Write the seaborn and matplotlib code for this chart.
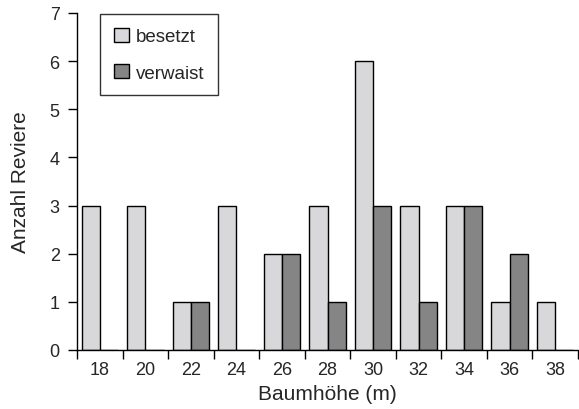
import matplotlib
matplotlib.use("Agg")
import matplotlib.pyplot as plt
from matplotlib.patches import Patch
import seaborn as sns
import pandas as pd

# data
heights = ["18", "20", "22", "24", "26", "28", "30", "32", "34", "36", "38"]
besetzt = [3, 3, 1, 3, 2, 3, 6, 3, 3, 1, 1]
verwaist = [0, 0, 1, 0, 2, 1, 3, 1, 3, 2, 0]
series = ["besetzt", "verwaist"]
colors = {"besetzt": "#d8d8da", "verwaist": "#858585"}

df = pd.DataFrame({
    "Baumhoehe": heights * 2,
    "Anzahl": besetzt + verwaist,
    "Status": [series[0]] * len(heights) + [series[1]] * len(heights),
})

sns.set_style("ticks")
plt.rcParams["font.family"] = ["Liberation Sans", "DejaVu Sans"]

fig = plt.figure(figsize=(5.79, 4.10), dpi=100)
ax = fig.add_axes([77 / 579, 1 - 351 / 410, 501 / 579, 337 / 410])

sns.barplot(data=df, x="Baumhoehe", y="Anzahl", hue="Status", order=heights,
            hue_order=series, palette=colors, width=0.8, edgecolor="black",
            linewidth=1, saturation=1, ax=ax, legend=False)

ax.set_xlim(-0.5, len(heights) - 0.5)
ax.set_ylim(0, 7)
ax.set_yticks(range(8))

# category ticks sit on the group boundaries, labels in the middle
ax.set_xticks([i - 0.5 for i in range(len(heights) + 1)], minor=True)
ax.tick_params(axis="x", which="major", length=0, pad=8, labelsize=13)
ax.tick_params(axis="x", which="minor", length=6.5, width=1, direction="out", color="black")
ax.tick_params(axis="y", length=6.5, width=1, pad=6, labelsize=13, color="black")

for side in ["top", "right"]:
    ax.spines[side].set_visible(False)
for side in ["left", "bottom"]:
    ax.spines[side].set_color("black")
    ax.spines[side].set_linewidth(1)

ax.set_xlabel("Baumhöhe (m)", fontsize=15, labelpad=4)
ax.set_ylabel("Anzahl Reviere", fontsize=15, labelpad=14)

handles = [Patch(facecolor=colors[s], edgecolor="black", linewidth=1) for s in series]
leg = ax.legend(handles, series, loc="upper left", bbox_to_anchor=(0.046, 0.997),
                borderaxespad=0, fontsize=13.5, handlelength=0.8, handleheight=0.8,
                handletextpad=0.4, labelspacing=1.0, borderpad=0.72,
                fancybox=False, frameon=True)
leg.get_frame().set_edgecolor("black")
leg.get_frame().set_linewidth(1)

fig.savefig("out.png", dpi=100)
